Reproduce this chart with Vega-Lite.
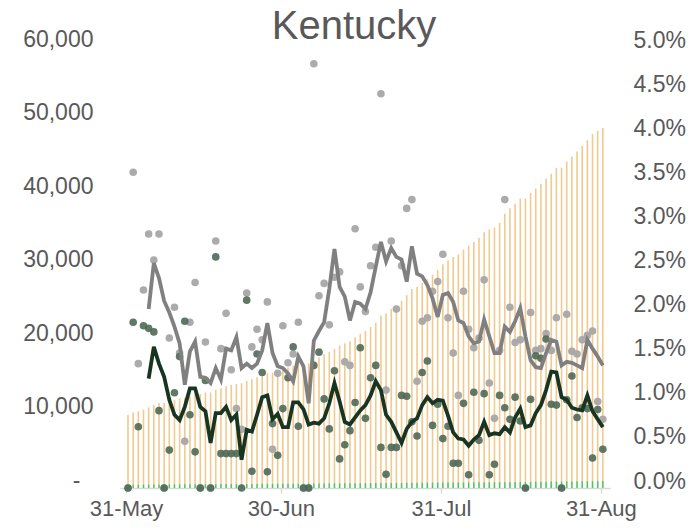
{
  "$schema": "https://vega.github.io/schema/vega-lite/v6.json",
  "width": 490,
  "height": 441,
  "autosize": {"type": "none"},
  "padding": {"left": 120, "top": 47, "right": 88, "bottom": 44},
  "background": "white",
  "config": {"view": {"stroke": null}, "font": "Liberation Sans"},
  "title": {"text": "Kentucky", "fontSize": 40, "font": "Liberation Sans", "fontWeight": "normal", "color": "#595959", "anchor": "middle", "dx": -11, "dy": 25, "offset": 6},
  "data": {"values": [
    {"date":"2020-05-31","cases":9930,"deaths":440,"cg":0,"dg":0},
    {"date":"2020-06-01","cases":10285,"deaths":448,"cg":3.58,"dg":1.88},
    {"date":"2020-06-02","cases":10430,"deaths":451,"cg":1.41,"dg":0.695},
    {"date":"2020-06-03","cases":10664,"deaths":459,"cg":2.245,"dg":1.84},
    {"date":"2020-06-04","cases":10971,"deaths":467,"cg":2.88,"dg":1.81,"cl":2.03,"dl":1.24},
    {"date":"2020-06-05","cases":11255,"deaths":475,"cg":2.585,"dg":1.77,"cl":2.55,"dl":1.60},
    {"date":"2020-06-06","cases":11579,"deaths":479,"cg":2.88,"dg":0.877,"cl":2.38,"dl":1.41},
    {"date":"2020-06-07","cases":11579,"deaths":479,"cg":0,"dg":0,"cl":2.12,"dl":1.26},
    {"date":"2020-06-08","cases":11776,"deaths":481,"cg":1.70,"dg":0.43,"cl":1.99,"dl":1.00},
    {"date":"2020-06-09","cases":12017,"deaths":486,"cg":2.05,"dg":1.08,"cl":1.83,"dl":0.83},
    {"date":"2020-06-10","cases":12201,"deaths":493,"cg":1.53,"dg":1.49,"cl":1.64,"dl":0.77},
    {"date":"2020-06-11","cases":12266,"deaths":502,"cg":0.53,"dg":1.89,"cl":1.17,"dl":0.92},
    {"date":"2020-06-12","cases":12497,"deaths":506,"cg":1.88,"dg":0.83,"cl":1.55,"dl":1.13},
    {"date":"2020-06-13","cases":12788,"deaths":508,"cg":2.33,"dg":0.41,"cl":1.66,"dl":1.13},
    {"date":"2020-06-14","cases":12788,"deaths":508,"cg":0,"dg":0,"cl":1.26,"dl":0.92},
    {"date":"2020-06-15","cases":13000,"deaths":514,"cg":1.655,"dg":1.22,"cl":1.25,"dl":0.87},
    {"date":"2020-06-16","cases":13000,"deaths":514,"cg":0,"dg":0,"cl":1.19,"dl":0.51},
    {"date":"2020-06-17","cases":13364,"deaths":527,"cg":2.80,"dg":2.62,"cl":1.36,"dl":0.85},
    {"date":"2020-06-18","cases":13575,"deaths":529,"cg":1.58,"dg":0.39,"cl":1.23,"dl":0.85},
    {"date":"2020-06-19","cases":13844,"deaths":531,"cg":1.98,"dg":0.39,"cl":1.58,"dl":0.92},
    {"date":"2020-06-20","cases":14030,"deaths":533,"cg":1.34,"dg":0.39,"cl":1.56,"dl":0.77},
    {"date":"2020-06-21","cases":14156,"deaths":535,"cg":0.90,"dg":0.39,"cl":1.71,"dl":0.83},
    {"date":"2020-06-22","cases":14250,"deaths":535,"cg":0.665,"dg":0,"cl":1.36,"dl":0.32},
    {"date":"2020-06-23","cases":14565,"deaths":546,"cg":2.21,"dg":2.13,"cl":1.41,"dl":0.66},
    {"date":"2020-06-24","cases":14798,"deaths":547,"cg":1.60,"dg":0.19,"cl":1.36,"dl":0.64},
    {"date":"2020-06-25","cases":15064,"deaths":555,"cg":1.80,"dg":1.52,"cl":1.41,"dl":0.83},
    {"date":"2020-06-26","cases":15290,"deaths":562,"cg":1.68,"dg":1.31,"cl":1.56,"dl":1.03},
    {"date":"2020-06-27","cases":15613,"deaths":563,"cg":2.11,"dg":0.185,"cl":1.87,"dl":1.05},
    {"date":"2020-06-28","cases":15682,"deaths":567,"cg":0.44,"dg":0.73,"cl":1.53,"dl":0.78},
    {"date":"2020-06-29","cases":15870,"deaths":569,"cg":1.3,"dg":0.37,"cl":1.38,"dl":0.84},
    {"date":"2020-06-30","cases":16162,"deaths":574,"cg":1.84,"dg":0.90,"cl":1.36,"dl":0.69},
    {"date":"2020-07-01","cases":16392,"deaths":581,"cg":1.42,"dg":1.25,"cl":1.30,"dl":0.69},
    {"date":"2020-07-02","cases":16641,"deaths":590,"cg":1.52,"dg":1.60,"cl":1.21,"dl":0.97},
    {"date":"2020-07-03","cases":16954,"deaths":594,"cg":1.88,"dg":0.70,"cl":1.49,"dl":0.97},
    {"date":"2020-07-04","cases":16954,"deaths":594,"cg":0,"dg":0,"cl":1.38,"dl":0.89},
    {"date":"2020-07-05","cases":16954,"deaths":594,"cg":0,"dg":0,"cl":0.96,"dl":0.72},
    {"date":"2020-07-06","cases":17400,"deaths":602,"cg":4.81,"dg":1.39,"cl":1.67,"dl":0.74},
    {"date":"2020-07-07","cases":17800,"deaths":611,"cg":2.18,"dg":1.54,"cl":1.78,"dl":0.73},
    {"date":"2020-07-08","cases":18200,"deaths":617,"cg":2.32,"dg":1.01,"cl":1.88,"dl":0.79},
    {"date":"2020-07-09","cases":18520,"deaths":621,"cg":1.85,"dg":0.67,"cl":2.26,"dl":0.96},
    {"date":"2020-07-10","cases":18950,"deaths":629,"cg":2.39,"dg":1.33,"cl":2.71,"dl":1.19},
    {"date":"2020-07-11","cases":19400,"deaths":631,"cg":2.45,"dg":0.33,"cl":2.28,"dl":0.98},
    {"date":"2020-07-12","cases":19680,"deaths":634,"cg":1.43,"dg":0.49,"cl":2.17,"dl":0.75},
    {"date":"2020-07-13","cases":19950,"deaths":638,"cg":1.39,"dg":0.65,"cl":1.90,"dl":0.72},
    {"date":"2020-07-14","cases":20520,"deaths":644,"cg":2.94,"dg":0.97,"cl":2.11,"dl":0.80},
    {"date":"2020-07-15","cases":20980,"deaths":654,"cg":2.28,"dg":1.59,"cl":2.09,"dl":0.88},
    {"date":"2020-07-16","cases":21380,"deaths":659,"cg":2.0,"dg":0.79,"cl":2.03,"dl":0.94},
    {"date":"2020-07-17","cases":21900,"deaths":667,"cg":2.52,"dg":1.25,"cl":2.22,"dl":1.05},
    {"date":"2020-07-18","cases":22480,"deaths":676,"cg":2.73,"dg":1.39,"cl":2.51,"dl":1.21},
    {"date":"2020-07-19","cases":23480,"deaths":679,"cg":4.47,"dg":0.46,"cl":2.79,"dl":1.11},
    {"date":"2020-07-20","cases":23730,"deaths":680,"cg":1.11,"dg":0.155,"cl":2.57,"dl":0.83},
    {"date":"2020-07-21","cases":24370,"deaths":683,"cg":2.80,"dg":0.46,"cl":2.72,"dl":0.75},
    {"date":"2020-07-22","cases":24850,"deaths":686,"cg":2.03,"dg":0.46,"cl":2.62,"dl":0.63},
    {"date":"2020-07-23","cases":25450,"deaths":693,"cg":2.52,"dg":1.05,"cl":2.59,"dl":0.51},
    {"date":"2020-07-24","cases":26240,"deaths":700,"cg":3.17,"dg":1.04,"cl":2.34,"dl":0.67},
    {"date":"2020-07-25","cases":27060,"deaths":705,"cg":3.27,"dg":0.75,"cl":2.74,"dl":0.75},
    {"date":"2020-07-26","cases":27380,"deaths":709,"cg":1.21,"dg":0.59,"cl":2.43,"dl":0.79},
    {"date":"2020-07-27","cases":27880,"deaths":718,"cg":1.89,"dg":1.31,"cl":2.40,"dl":0.94},
    {"date":"2020-07-28","cases":28400,"deaths":728,"cg":1.93,"dg":1.44,"cl":2.30,"dl":1.03},
    {"date":"2020-07-29","cases":29010,"deaths":733,"cg":2.23,"dg":0.71,"cl":2.15,"dl":0.96},
    {"date":"2020-07-30","cases":29670,"deaths":740,"cg":2.34,"dg":0.95,"cl":1.94,"dl":1.0},
    {"date":"2020-07-31","cases":30430,"deaths":744,"cg":2.65,"dg":0.56,"cl":2.19,"dl":0.99},
    {"date":"2020-08-01","cases":30980,"deaths":749,"cg":1.93,"dg":0.70,"cl":2.21,"dl":0.82},
    {"date":"2020-08-02","cases":31430,"deaths":751,"cg":1.53,"dg":0.28,"cl":2.11,"dl":0.63},
    {"date":"2020-08-03","cases":31760,"deaths":753,"cg":1.05,"dg":0.28,"cl":1.90,"dl":0.56},
    {"date":"2020-08-04","cases":32440,"deaths":760,"cg":2.23,"dg":0.96,"cl":1.87,"dl":0.55},
    {"date":"2020-08-05","cases":32980,"deaths":761,"cg":1.8,"dg":0.15,"cl":1.72,"dl":0.48},
    {"date":"2020-08-06","cases":33480,"deaths":769,"cg":1.59,"dg":1.085,"cl":1.64,"dl":0.55},
    {"date":"2020-08-07","cases":34010,"deaths":773,"cg":1.7,"dg":0.54,"cl":1.66,"dl":0.60},
    {"date":"2020-08-08","cases":34780,"deaths":781,"cg":2.36,"dg":1.07,"cl":1.91,"dl":0.75},
    {"date":"2020-08-09","cases":35170,"deaths":782,"cg":1.19,"dg":0.15,"cl":1.72,"dl":0.60},
    {"date":"2020-08-10","cases":35450,"deaths":784,"cg":0.79,"dg":0.27,"cl":1.53,"dl":0.62},
    {"date":"2020-08-11","cases":36100,"deaths":792,"cg":1.56,"dg":1.05,"cl":1.53,"dl":0.61},
    {"date":"2020-08-12","cases":37300,"deaths":799,"cg":3.27,"dg":0.91,"cl":1.83,"dl":0.69},
    {"date":"2020-08-13","cases":38050,"deaths":805,"cg":2.05,"dg":0.78,"cl":1.77,"dl":0.63},
    {"date":"2020-08-14","cases":38680,"deaths":813,"cg":1.65,"dg":1.03,"cl":1.89,"dl":0.80},
    {"date":"2020-08-15","cases":39350,"deaths":819,"cg":1.68,"dg":0.76,"cl":2.04,"dl":0.90},
    {"date":"2020-08-16","cases":39350,"deaths":819,"cg":0,"dg":0,"cl":1.72,"dl":0.69},
    {"date":"2020-08-17","cases":40130,"deaths":827,"cg":1.99,"dg":1.005,"cl":1.45,"dl":0.71},
    {"date":"2020-08-18","cases":40750,"deaths":839,"cg":1.56,"dg":1.50,"cl":1.37,"dl":0.85},
    {"date":"2020-08-19","cases":41390,"deaths":851,"cg":1.58,"dg":1.47,"cl":1.36,"dl":0.94},
    {"date":"2020-08-20","cases":42110,"deaths":865,"cg":1.75,"dg":1.69,"cl":1.53,"dl":1.11},
    {"date":"2020-08-21","cases":42760,"deaths":873,"cg":1.56,"dg":0.95,"cl":1.68,"dl":1.32},
    {"date":"2020-08-22","cases":43580,"deaths":881,"cg":1.93,"dg":0.94,"cl":1.66,"dl":1.31},
    {"date":"2020-08-23","cases":43580,"deaths":881,"cg":0,"dg":0,"cl":1.39,"dl":1.03},
    {"date":"2020-08-24","cases":44430,"deaths":890,"cg":1.97,"dg":1.0,"cl":1.43,"dl":1.0},
    {"date":"2020-08-25","cases":45100,"deaths":901,"cg":1.55,"dg":1.27,"cl":1.42,"dl":0.91},
    {"date":"2020-08-26","cases":45770,"deaths":908,"cg":1.52,"dg":0.80,"cl":1.39,"dl":0.89},
    {"date":"2020-08-27","cases":46520,"deaths":916,"cg":1.68,"dg":0.91,"cl":1.36,"dl":0.88},
    {"date":"2020-08-28","cases":47320,"deaths":924,"cg":1.73,"dg":0.90,"cl":1.68,"dl":1.05},
    {"date":"2020-08-29","cases":48150,"deaths":927,"cg":1.78,"dg":0.34,"cl":1.58,"dl":0.87},
    {"date":"2020-08-30","cases":48620,"deaths":935,"cg":0.98,"dg":0.89,"cl":1.49,"dl":0.78},
    {"date":"2020-08-31","cases":48990,"deaths":939,"cg":0.78,"dg":0.44,"cl":1.39,"dl":0.69}
  ]},
  "encoding": {
    "x": {
      "field": "date", "type": "temporal",
      "scale": {"type": "utc", "domain": [{"year": 2020, "month": 5, "date": 30, "hours": 10, "utc": true}, {"year": 2020, "month": 8, "date": 31, "hours": 10, "utc": true}]},
      "axis": {
        "title": null,
        "values": [{"year": 2020, "month": 5, "date": 31, "utc": true}, {"year": 2020, "month": 6, "date": 30, "utc": true}, {"year": 2020, "month": 7, "date": 31, "utc": true}, {"year": 2020, "month": 8, "date": 31, "utc": true}],
        "labelExpr": "utcFormat(datum.value, '%d-%b')",
        "grid": false, "domainColor": "#D9D9D9", "domainWidth": 1.5,
        "tickColor": "#D9D9D9", "tickSize": 5, "tickWidth": 1.5, "tickOffset": -2,
        "labelFont": "Liberation Sans", "labelFontSize": 22, "labelColor": "#595959", "labelPadding": 5, "labelFlush": false
      }
    }
  },
  "layer": [
    {
      "encoding": {
        "y": {
          "type": "quantitative",
          "scale": {"domain": [0, 60000], "nice": false},
          "axis": {
            "title": null, "orient": "left", "values": [0, 10000, 20000, 30000, 40000, 50000, 60000],
            "labelExpr": "datum.value == 0 ? '-' : format(datum.value, ',')",
            "grid": false, "domain": false, "ticks": false,
            "labelPadding": {"condition": {"test": "datum.value == 0", "value": 40}, "value": 27},
            "labelOffset": -8,
            "labelFont": "Liberation Sans", "labelFontSize": 23, "labelColor": "#595959"
          }
        }
      },
      "layer": [
        {"mark": {"type": "bar", "width": 1.6, "color": "#F2C98E"}, "encoding": {"y": {"field": "cases", "type": "quantitative"}}},
        {"mark": {"type": "bar", "width": 1.4, "color": "#3DCB70"}, "encoding": {"y": {"field": "deaths", "type": "quantitative"}}}
      ]
    },
    {
      "encoding": {
        "y": {
          "type": "quantitative",
          "scale": {"domain": [0, 5], "nice": false},
          "axis": {
            "title": null, "orient": "right", "values": [0, 0.5, 1, 1.5, 2, 2.5, 3, 3.5, 4, 4.5, 5],
            "labelExpr": "format(datum.value, '.1f') + '%'",
            "grid": false, "domain": false, "ticks": false, "labelPadding": 23, "labelOffset": -7,
            "labelFont": "Liberation Sans", "labelFontSize": 23, "labelColor": "#595959"
          }
        }
      },
      "layer": [
        {"mark": {"type": "point", "filled": true, "size": 58, "color": "#A6A6A6", "opacity": 0.95}, "encoding": {"y": {"field": "cg"}}},
        {"mark": {"type": "point", "filled": true, "size": 58, "color": "#4E6957", "opacity": 0.9}, "encoding": {"y": {"field": "dg"}}},
        {"mark": {"type": "line", "color": "#808080", "strokeWidth": 3.8}, "encoding": {"y": {"field": "cl"}}},
        {"mark": {"type": "line", "color": "#183522", "strokeWidth": 3.8}, "encoding": {"y": {"field": "dl"}}}
      ]
    }
  ],
  "resolve": {"scale": {"y": "independent"}}
}
